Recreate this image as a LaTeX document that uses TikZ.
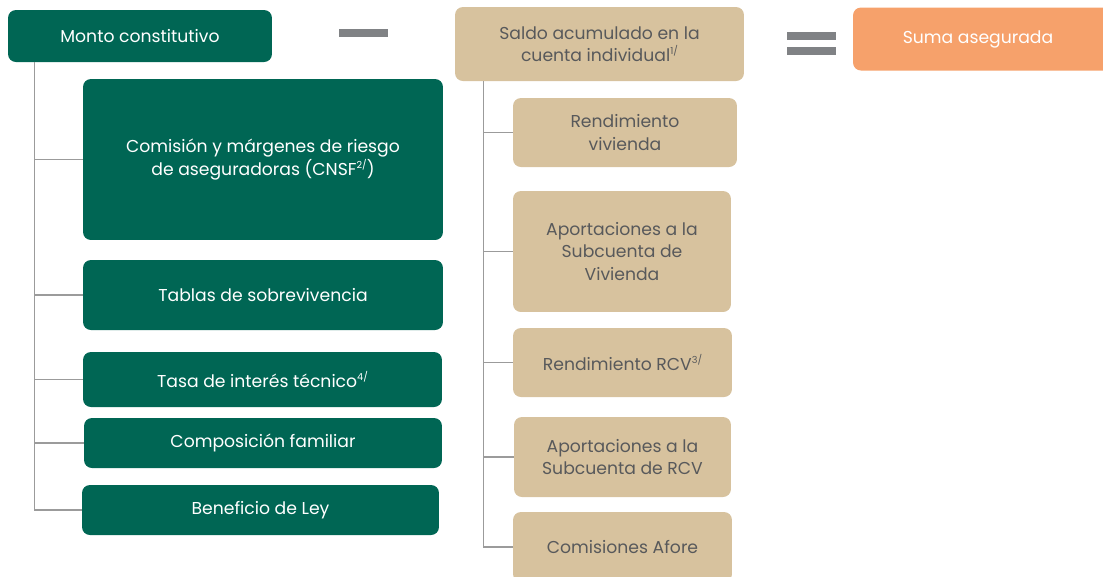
\documentclass[tikz,border=0pt]{standalone}
\usepackage{fontspec}
\setmainfont{Poppins}
\usetikzlibrary{positioning,calc}
\definecolor{segverde}{RGB}{0,102,84}
\definecolor{segarena}{RGB}{215,194,158}
\definecolor{segnaranja}{RGB}{246,161,107}
\definecolor{seggris}{RGB}{128,130,133}
\definecolor{seglinea}{RGB}{155,155,155}
\definecolor{segtexto}{RGB}{88,89,91}
\newcommand{\nota}[1]{\raisebox{0.75ex}{\fontsize{5.5}{6}\selectfont #1}}
\tikzset{
  greenbox/.style={rounded corners=4.5pt, fill=segverde, text=white, align=center, inner sep=2pt},
  sandbox/.style={rounded corners=4.5pt, fill=segarena, text=segtexto, align=center, inner sep=2pt},
  totalbox/.style={rounded corners=4.5pt, fill=segnaranja, text=white, align=center, inner sep=2pt},
  signbar/.style={fill=seggris},
  branch/.style={draw=seglinea, line width=0.9pt}
}

\begin{document}
\begin{tikzpicture}[x=0.02cm, y=-0.02cm, every node/.style={font=\fontsize{9.8}{12.8}\selectfont}]
  \useasboundingbox (0,0) rectangle (1103,576);
  % top row
  \node[greenbox, minimum width=5.28cm, minimum height=1.04cm] (monto) at (140,36) {Monto constitutivo};
  \node[sandbox, minimum width=5.78cm, minimum height=1.48cm] (saldo) at (599.5,44) {Saldo acumulado en la\\cuenta individual\nota{1/}};
  \node[totalbox, minimum width=5.2cm, minimum height=1.26cm] (suma) at (983,39) {\hspace*{-0.2cm}Suma asegurada};
  \fill[signbar] (339,29) rectangle (388,37);
  \fill[signbar] (787,32) rectangle (836,40);
  \fill[signbar] (787,47) rectangle (836,55);
  % left column
  \node[greenbox, minimum width=7.2cm, minimum height=3.22cm] (comision) at (263,159.5) {Comisión y márgenes de riesgo\\de aseguradoras (CNSF\nota{2/})};
  \node[greenbox, minimum width=7.2cm, minimum height=1.4cm] (tablas) at (263,295) {Tablas de sobrevivencia};
  \node[greenbox, minimum width=7.18cm, minimum height=1.1cm] (tasa) at (262.5,379.5) {Tasa de interés técnico\nota{4/}};
  \node[greenbox, minimum width=7.16cm, minimum height=1.0cm] (compos) at (263,443) {Composición familiar};
  \node[greenbox, minimum width=7.14cm, minimum height=1.0cm] (benef) at (260.5,510) {Beneficio de Ley};
  % right column
  \node[sandbox, minimum width=4.48cm, minimum height=1.38cm] (rendviv) at (625,132.5) {Rendimiento\\vivienda};
  \node[sandbox, minimum width=4.36cm, minimum height=2.42cm] (aportviv) at (622,251.5) {Aportaciones a la\\Subcuenta de\\Vivienda};
  \node[sandbox, minimum width=4.38cm, minimum height=1.38cm] (rendrcv) at (622.5,362.5) {Rendimiento RCV\nota{3/}};
  \node[sandbox, minimum width=4.34cm, minimum height=1.6cm] (aportrcv) at (622.5,457) {Aportaciones a la\\Subcuenta de RCV};
  \node[sandbox, minimum width=4.38cm, minimum height=1.4cm] (afore) at (622.5,547) {Comisiones Afore};
  % trunks
  \coordinate (ltop) at ([xshift=0.54cm]monto.south west);
  \coordinate (rtop) at ([xshift=0.58cm]saldo.south west);
  \foreach \b in {comision,tablas,tasa,compos,benef}
    \draw[branch] (ltop) |- (\b.west);
  \foreach \b in {rendviv,aportviv,rendrcv,aportrcv,afore}
    \draw[branch] (rtop) |- (\b.west);
\end{tikzpicture}
\end{document}
